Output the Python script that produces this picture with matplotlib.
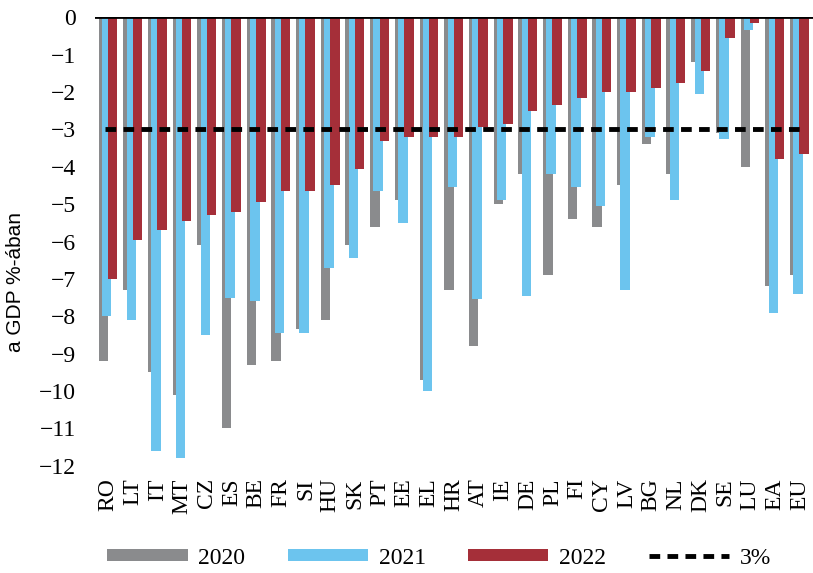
import numpy as np
import matplotlib.pyplot as plt

countries = ["RO", "LT", "IT", "MT", "CZ", "ES", "BE", "FR", "SI", "HU", "SK", "PT", "EE",
             "EL", "HR", "AT", "IE", "DE", "PL", "FI", "CY", "LV", "BG", "NL", "DK", "SE",
             "LU", "EA", "EU"]
y2020 = [-9.2, -7.3, -9.5, -10.1, -6.1, -11.0, -9.3, -9.2, -8.35, -8.1, -6.1, -5.6, -4.9,
         -9.7, -7.3, -8.8, -5.0, -4.2, -6.9, -5.4, -5.6, -4.5, -3.4, -4.2, -1.2, -3.1,
         -4.0, -7.2, -6.9]
y2021 = [-8.0, -8.1, -11.6, -11.8, -8.5, -7.5, -7.6, -8.45, -8.45, -6.7, -6.45, -4.65, -5.5,
         -10.0, -4.55, -7.55, -4.9, -7.45, -4.2, -4.55, -5.05, -7.3, -3.2, -4.9, -2.05, -3.25,
         -0.35, -7.9, -7.4]
y2022 = [-7.0, -5.95, -5.7, -5.45, -5.3, -5.2, -4.95, -4.65, -4.65, -4.5, -4.05, -3.3, -3.2,
         -3.2, -3.2, -2.95, -2.85, -2.5, -2.35, -2.15, -2.0, -2.0, -1.9, -1.75, -1.45, -0.55,
         -0.15, -3.8, -3.65]
threshold = -3

c2020 = "#8a8b8d"
c2021 = "#6cc4ee"
c2022 = "#a52f39"

plt.rcParams['font.family'] = 'Liberation Serif'

fig = plt.figure(figsize=(8.13, 5.73), dpi=100)
ax = fig.add_axes([0.117, 0.187, 0.883, 0.783])

x = np.arange(len(countries))
w = 0.385
ax.bar(x - 0.19, y2020, w, color=c2020, label="2020")
ax.bar(x - 0.055, y2021, w, color=c2021, label="2021")
ax.bar(x + 0.19, y2022, w, color=c2022, label="2022")

ax.axhline(0, color="black", lw=2, zorder=5)
ax.plot([x[0] - 0.1, x[-1] + 0.1], [threshold, threshold], color="black", lw=3.5,
        dashes=(2.2, 1.5), label="3%", zorder=6)

ax.set_xlim(-0.52, 28.55)
ax.set_ylim(-12, 0)
ax.set_yticks(range(-12, 1))
ax.set_xticks(x)
ax.set_xticklabels(countries, rotation=90, fontsize=17, va="top")
ax.tick_params(axis="x", length=0, pad=9)
ax.tick_params(axis="y", length=0, pad=14, labelsize=17)
for s in ax.spines.values():
    s.set_visible(False)

ax.set_ylabel("a GDP %-ában", family="Liberation Sans", fontsize=15)
ax.yaxis.set_label_coords(-0.098, 0.41)

handles, labels = ax.get_legend_handles_labels()
order = [1, 2, 3, 0]
fig.legend([handles[i] for i in order], [labels[i] for i in order],
           loc="center", bbox_to_anchor=(0.54, 0.026), ncol=4, frameon=False,
           fontsize=17, handlelength=3.4, handleheight=0.42, handletextpad=0.45,
           columnspacing=1.8)

fig.savefig("out.png", dpi=100)
